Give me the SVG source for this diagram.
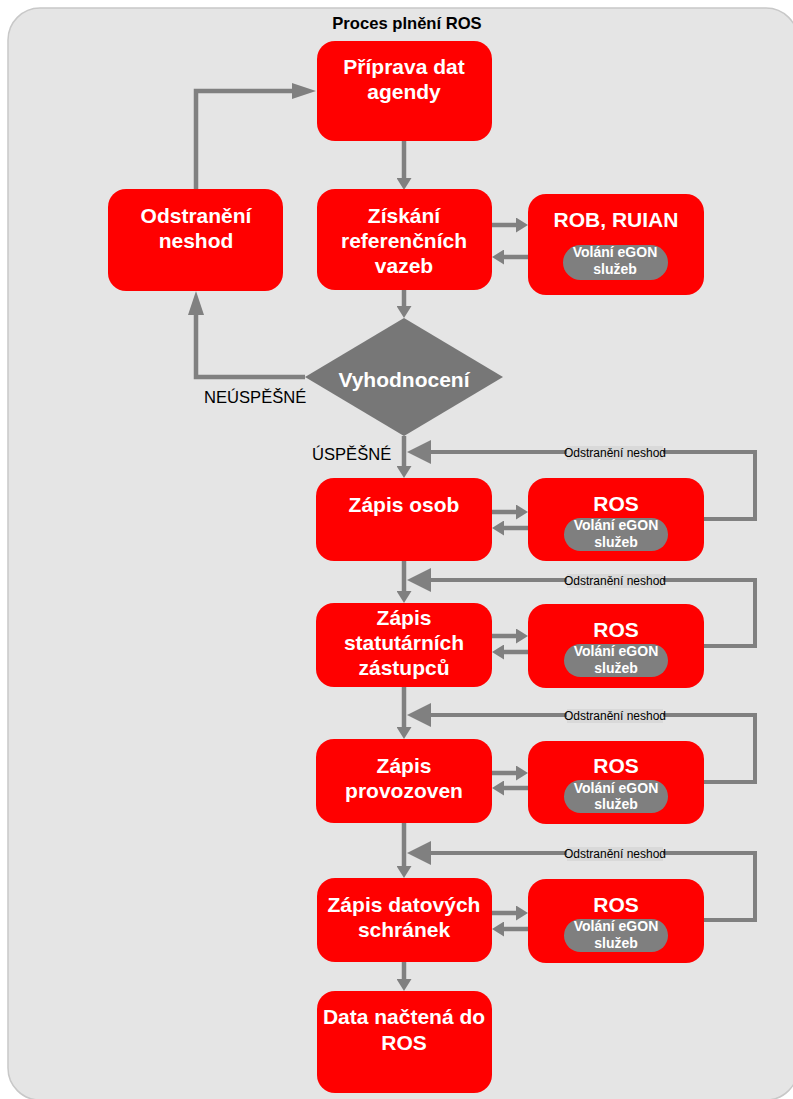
<svg xmlns="http://www.w3.org/2000/svg" width="793" height="1099" viewBox="0 0 793 1099">
<style>
.box{fill:#ff0000}
.pill{fill:#7f7f7f}
.t{font-family:"Liberation Sans",Arial,sans-serif;font-weight:bold;fill:#ffffff;text-anchor:middle}
.big{font-size:21px}
.sm{font-size:14px}
.lbl{font-family:"Liberation Sans",Arial,sans-serif;font-size:16.6px;fill:#000000}
.fb{font-family:"Liberation Sans",Arial,sans-serif;font-size:12px;fill:#000000;text-anchor:middle}
.fbg{fill:#d9d9d9}
.ln{fill:none;stroke:#808080;stroke-width:4.5}
.fl{fill:none;stroke:#808080;stroke-width:4}
</style>
<defs>
<marker id="hs" markerUnits="userSpaceOnUse" markerWidth="12" markerHeight="15" refX="0" refY="7.5" orient="auto"><path d="M0,0 L12,7.5 L0,15 z" fill="#808080"/></marker>
<marker id="hm" markerUnits="userSpaceOnUse" markerWidth="24" markerHeight="16" refX="0" refY="8" orient="auto"><path d="M0,0 L24,8 L0,16 z" fill="#808080"/></marker>
<marker id="hl" markerUnits="userSpaceOnUse" markerWidth="24" markerHeight="24" refX="0" refY="12" orient="auto"><path d="M0,0 L24,12 L0,24 z" fill="#808080"/></marker>
</defs>
<rect x="8" y="8" width="790" height="1092" rx="32" fill="#e5e5e5" stroke="#c8c8c8" stroke-width="1.5"/>
<text x="407" y="29" font-family="Liberation Sans,Arial,sans-serif" font-weight="bold" font-size="16.6" text-anchor="middle" fill="#000">Proces plnění ROS</text>

<g id="connectors">
<path class="ln" d="M404,141 V178" marker-end="url(#hs)"/>
<path class="ln" d="M404,290 V306" marker-end="url(#hs)"/>
<path class="ln" d="M404,436 V466" marker-end="url(#hs)"/>
<path class="ln" d="M404,561 V591" marker-end="url(#hs)"/>
<path class="ln" d="M404,687 V727" marker-end="url(#hs)"/>
<path class="ln" d="M404,823 V866" marker-end="url(#hs)"/>
<path class="ln" d="M404,962 V979" marker-end="url(#hs)"/>
<path class="ln" d="M305,377 H196 V315" marker-end="url(#hm)"/>
<path class="ln" d="M196,189 V91 H292" marker-end="url(#hm)"/>
<path class="ln" d="M492,225 H516" marker-end="url(#hs)"/>
<path class="ln" d="M528,257 H504" marker-end="url(#hs)"/>
<path class="ln" d="M492,512 H516" marker-end="url(#hs)"/>
<path class="ln" d="M528,528 H504" marker-end="url(#hs)"/>
<path class="ln" d="M492,636 H516" marker-end="url(#hs)"/>
<path class="ln" d="M528,652 H504" marker-end="url(#hs)"/>
<path class="ln" d="M492,773 H516" marker-end="url(#hs)"/>
<path class="ln" d="M528,788 H504" marker-end="url(#hs)"/>
<path class="ln" d="M492,913 H516" marker-end="url(#hs)"/>
<path class="ln" d="M528,929 H504" marker-end="url(#hs)"/>
<path class="fl" d="M704,519 H755 V452 H431" marker-end="url(#hl)"/>
<path class="fl" d="M704,646 H755 V580 H431" marker-end="url(#hl)"/>
<path class="fl" d="M704,782 H755 V715 H431" marker-end="url(#hl)"/>
<path class="fl" d="M704,920 H755 V853 H431" marker-end="url(#hl)"/>
<rect class="fbg" x="567" y="446" width="96" height="14"/>
<text class="fb" x="615" y="457">Odstranění neshod</text>
<rect class="fbg" x="567" y="574" width="96" height="14"/>
<text class="fb" x="615" y="585">Odstranění neshod</text>
<rect class="fbg" x="567" y="709" width="96" height="14"/>
<text class="fb" x="615" y="720">Odstranění neshod</text>
<rect class="fbg" x="567" y="847" width="96" height="14"/>
<text class="fb" x="615" y="858">Odstranění neshod</text>
<text class="lbl" x="204" y="403">NEÚSPĚŠNÉ</text>
<text class="lbl" x="312" y="460">ÚSPĚŠNÉ</text>
</g>

<g id="n-priprava">
<rect class="box" x="317" y="41" width="175" height="100" rx="18"/>
<text class="t big" x="404" y="74">Příprava dat</text>
<text class="t big" x="404" y="99">agendy</text>
</g>
<g id="n-odstraneni">
<rect class="box" x="108" y="189" width="175" height="102" rx="18"/>
<text class="t big" x="196" y="223">Odstranění</text>
<text class="t big" x="196" y="248">neshod</text>
</g>
<g id="n-ziskani">
<rect class="box" x="317" y="189" width="175" height="101" rx="18"/>
<text class="t big" x="404" y="223">Získání</text>
<text class="t big" x="404" y="248">referenčních</text>
<text class="t big" x="404" y="273">vazeb</text>
</g>
<g id="n-rob">
<rect class="box" x="528" y="194" width="176" height="101" rx="18"/>
<text class="t big" x="616" y="227">ROB, RUIAN</text>
<rect class="pill" x="563" y="245" width="105" height="35" rx="17.5"/>
<text class="t sm" x="615" y="257">Volání eGON</text>
<text class="t sm" x="615" y="274">služeb</text>
</g>
<g id="n-vyhodnoceni">
<polygon points="404,318 503,377 404,436 305,377" fill="#777777"/>
<text class="t big" x="404" y="387">Vyhodnocení</text>
</g>
<g id="n-osob">
<rect class="box" x="316" y="478" width="176" height="83" rx="18"/>
<text class="t big" x="404" y="512">Zápis osob</text>
</g>
<g id="n-ros1">
<rect class="box" x="528" y="478" width="176" height="83" rx="18"/>
<text class="t big" x="616" y="511">ROS</text>
<rect class="pill" x="564" y="518" width="104" height="33" rx="16.5"/>
<text class="t sm" x="616" y="530">Volání eGON</text>
<text class="t sm" x="616" y="547">služeb</text>
</g>
<g id="n-statutarni">
<rect class="box" x="316" y="603" width="176" height="84" rx="18"/>
<text class="t big" x="404" y="625">Zápis</text>
<text class="t big" x="404" y="650">statutárních</text>
<text class="t big" x="404" y="675">zástupců</text>
</g>
<g id="n-ros2">
<rect class="box" x="528" y="604" width="176" height="84" rx="18"/>
<text class="t big" x="616" y="637">ROS</text>
<rect class="pill" x="564" y="644" width="104" height="33" rx="16.5"/>
<text class="t sm" x="616" y="656">Volání eGON</text>
<text class="t sm" x="616" y="673">služeb</text>
</g>
<g id="n-provozovny">
<rect class="box" x="316" y="739" width="176" height="84" rx="18"/>
<text class="t big" x="404" y="773">Zápis</text>
<text class="t big" x="404" y="798">provozoven</text>
</g>
<g id="n-ros3">
<rect class="box" x="528" y="741" width="176" height="83" rx="18"/>
<text class="t big" x="616" y="773">ROS</text>
<rect class="pill" x="564" y="780" width="104" height="33" rx="16.5"/>
<text class="t sm" x="616" y="793">Volání eGON</text>
<text class="t sm" x="616" y="809">služeb</text>
</g>
<g id="n-datove">
<rect class="box" x="317" y="878" width="175" height="84" rx="18"/>
<text class="t big" x="404" y="912">Zápis datových</text>
<text class="t big" x="404" y="937">schránek</text>
</g>
<g id="n-ros4">
<rect class="box" x="528" y="879" width="176" height="84" rx="18"/>
<text class="t big" x="616" y="912">ROS</text>
<rect class="pill" x="564" y="919" width="104" height="33" rx="16.5"/>
<text class="t sm" x="616" y="931">Volání eGON</text>
<text class="t sm" x="616" y="948">služeb</text>
</g>
<g id="n-data">
<rect class="box" x="317" y="991" width="175" height="102" rx="18"/>
<text class="t big" x="404" y="1024">Data načtená do</text>
<text class="t big" x="404" y="1050">ROS</text>
</g>
</svg>
